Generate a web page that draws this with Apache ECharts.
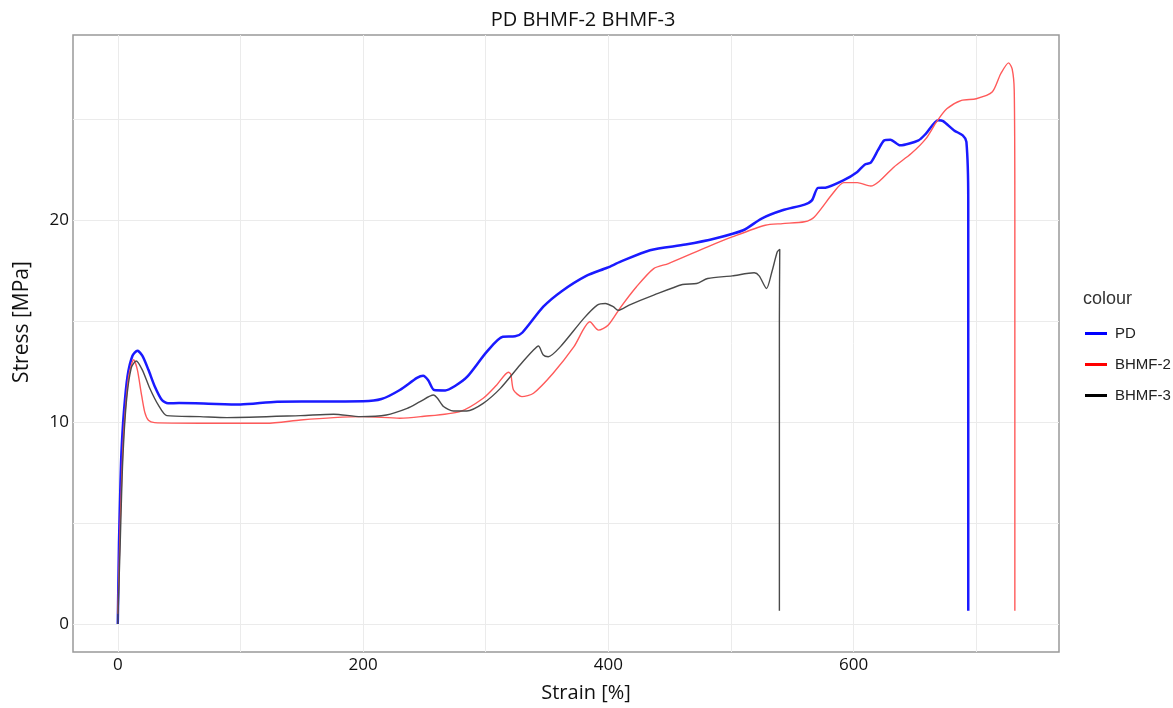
<!DOCTYPE html>
<html>
<head>
<meta charset="utf-8">
<script src="https://cdn.jsdelivr.net/npm/echarts@6/dist/echarts.min.js"></script>
<style>
  html, body { margin: 0; padding: 0; background: #fff; }
  #chart { width: 1173px; height: 708px; }
</style>
</head>
<body>
<div id="chart"></div>
<script>
// values (strain %, stress MPa)
const pdStrain = [0, 0.5, 1, 2, 3, 5, 8, 12, 16, 20, 25, 30, 36, 41, 50, 70, 100, 130, 170, 200, 215, 230, 244, 249, 253, 258, 267, 275, 285, 301, 314, 324, 330, 347, 362, 382, 399, 410, 434, 463, 487, 510, 525, 542, 560, 566, 571, 577, 592, 603, 609, 614, 620, 625, 630, 638, 653, 659, 669, 673, 682, 689, 692, 693.5, 693.5];
const pdStress = [0, 2, 4, 6.5, 8.5, 10.5, 12.3, 13.3, 13.55, 13.3, 12.6, 11.8, 11.1, 10.94, 10.95, 10.93, 10.88, 11.02, 11.03, 11.04, 11.15, 11.6, 12.2, 12.31, 12.1, 11.6, 11.58, 11.8, 12.26, 13.5, 14.24, 14.26, 14.45, 15.73, 16.5, 17.26, 17.66, 17.96, 18.53, 18.81, 19.11, 19.52, 20.1, 20.51, 20.79, 21.0, 21.62, 21.63, 22.0, 22.41, 22.77, 22.87, 23.5, 23.98, 24.01, 23.73, 23.98, 24.31, 24.97, 24.93, 24.47, 24.22, 23.9, 21, 0.66];

const bh2Strain = [0, 1, 2, 4, 6, 9, 13, 16, 19, 22, 25, 30, 67, 121, 149, 176, 200, 230, 247, 279, 298, 309, 318.6, 320.5, 322.7, 329.5, 339, 355, 372, 385, 392, 400, 410, 423, 437, 449, 481, 501, 528, 542, 560, 568, 583, 592, 603, 614, 621, 633, 647, 659, 667.5, 676, 688, 700, 713, 720, 726.4, 729.3, 731, 731.5, 731.5];
const bh2Stress = [0.5, 2.5, 5, 8.5, 10.5, 12.3, 13.1, 12.6, 11.5, 10.5, 10.1, 9.98, 9.95, 9.95, 10.11, 10.23, 10.28, 10.2, 10.28, 10.53, 11.19, 11.85, 12.48, 12.38, 11.6, 11.27, 11.44, 12.43, 13.75, 14.98, 14.57, 14.82, 15.7, 16.72, 17.62, 17.87, 18.7, 19.19, 19.77, 19.85, 19.94, 20.18, 21.34, 21.88, 21.88, 21.71, 21.95, 22.66, 23.32, 24.06, 24.88, 25.54, 25.96, 26.04, 26.37, 27.28, 27.82, 27.52, 26.45, 20, 0.66];

const bh3Strain = [0, 2, 4, 7, 11, 15, 20, 26, 33, 40, 67, 89, 149, 176, 198, 219, 236, 246.5, 257.4, 260.7, 265.6, 273.7, 284.6, 298, 312, 328, 339, 343, 347, 351, 361, 380, 391, 397.6, 404, 408, 417, 437, 460.5, 472, 481, 501, 519, 523, 529, 533.4, 537.8, 539.8, 539.5, 539.5];
const bh3Stress = [0, 4, 8, 11, 12.7, 13.04, 12.6, 11.7, 10.86, 10.33, 10.28, 10.23, 10.33, 10.4, 10.28, 10.36, 10.69, 11.02, 11.35, 11.19, 10.78, 10.56, 10.56, 10.94, 11.68, 12.84, 13.58, 13.78, 13.33, 13.25, 13.75, 15.15, 15.81, 15.89, 15.73, 15.55, 15.81, 16.3, 16.83, 16.88, 17.13, 17.26, 17.41, 17.26, 16.63, 17.46, 18.45, 18.58, 15, 0.66];

const xTicks = [0, 200, 400, 600];
const xGrid = [0, 100, 200, 300, 400, 500, 600, 700];
const yTicks = [0, 10, 20];
const yGrid = [0, 5, 10, 15, 20, 25];

function zip(xs, ys) {
    return xs.map(function (x, i) { return [x, ys[i]] })
}

let chart = echarts.init(document.getElementById('chart'))
let option = {
    backgroundColor: '#fff',
    animation: false,
    title: [
        {
            text: 'PD BHMF-2 BHMF-3',
            left: 578,
            top: 5,
            textAlign: 'center',
            textStyle: { fontFamily: 'Open Sans', fontSize: 20, fontWeight: 'normal', color: '#111' }
        },
        {
            text: 'colour',
            left: 1078,
            top: 285,
            textStyle: { fontFamily: 'Liberation Sans', fontSize: 18, fontWeight: 'normal', color: '#333' }
        }
    ],
    graphic: [
        {
            type: 'text',
            x: 586,
            y: 693,
            style: { text: 'Strain [%]', fontFamily: 'Open Sans', fontSize: 20, fill: '#111', align: 'center', verticalAlign: 'middle' }
        },
        {
            type: 'text',
            x: 22,
            y: 322,
            rotation: Math.PI / 2,
            style: { text: 'Stress [MPa]', fontFamily: 'Open Sans', fontSize: 21, fill: '#111', align: 'center', verticalAlign: 'middle' }
        }
    ],
    legend: {
        left: 1080,
        top: 321,
        orient: 'vertical',
        icon: 'rect',
        itemWidth: 22,
        itemHeight: 3,
        itemGap: 16,
        textStyle: { fontFamily: 'Liberation Sans', fontSize: 15, color: '#222', padding: [0, 0, 0, 3] },
        data: ['PD', 'BHMF-2', 'BHMF-3']
    },
    grid: {
        left: 73,
        right: 114,
        top: 35,
        bottom: 56,
        show: true,
        borderColor: '#999',
        borderWidth: 1.5,
        backgroundColor: '#fff',
        containLabel: false
    },
    xAxis: {
        type: 'value',
        min: -36.5,
        max: 767.5,
        axisLine: { show: false },
        axisTick: { show: false, customValues: xGrid },
        axisLabel: { customValues: xTicks, fontFamily: 'Open Sans', fontSize: 17, color: '#111', margin: 5 },
        splitLine: { show: true, lineStyle: { color: '#ebebeb', width: 1 } }
    },
    yAxis: {
        type: 'value',
        min: -1.39,
        max: 29.2,
        axisLine: { show: false },
        axisTick: { show: false, customValues: yGrid },
        axisLabel: { customValues: yTicks, fontFamily: 'Open Sans', fontSize: 17, color: '#111', margin: 4 },
        splitLine: { show: true, lineStyle: { color: '#ebebeb', width: 1 } }
    },
    series: [
        {
            name: 'PD',
            type: 'line',
            smooth: 0.25,
            showSymbol: false,
            symbol: 'none',
            itemStyle: { color: '#0000ff' },
            lineStyle: { color: '#1a1aff', width: 2.5 },
            data: zip(pdStrain, pdStress)
        },
        {
            name: 'BHMF-2',
            type: 'line',
            smooth: 0.25,
            showSymbol: false,
            symbol: 'none',
            itemStyle: { color: '#ff0000' },
            lineStyle: { color: '#ff5a5a', width: 1.4 },
            data: zip(bh2Strain, bh2Stress)
        },
        {
            name: 'BHMF-3',
            type: 'line',
            smooth: 0.25,
            showSymbol: false,
            symbol: 'none',
            itemStyle: { color: '#000000' },
            lineStyle: { color: '#4a4a4a', width: 1.4 },
            data: zip(bh3Strain, bh3Stress)
        }
    ]
}
chart.setOption(option)
</script>
</body>
</html>
